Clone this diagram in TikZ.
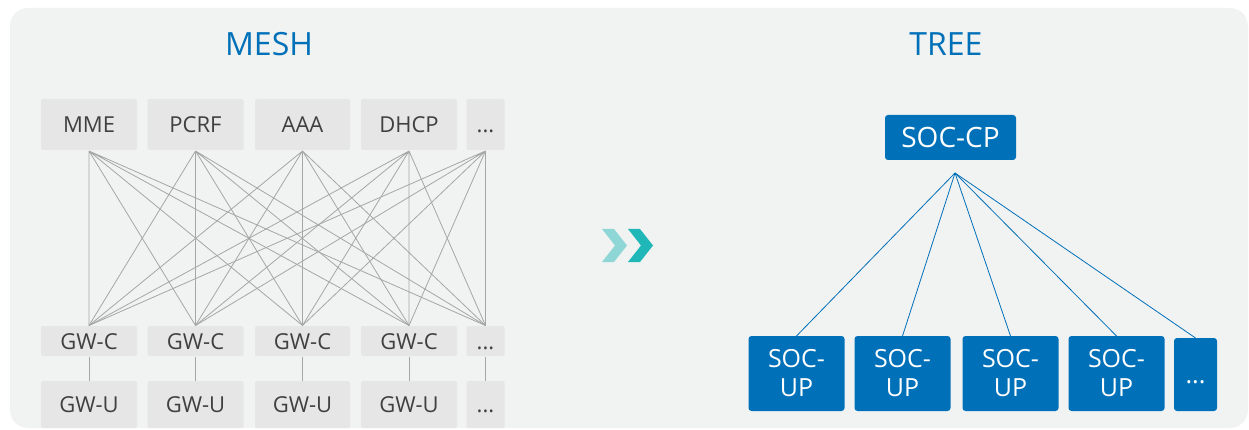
\documentclass[tikz,border=0pt]{standalone}
\usepackage{fontspec}
\setmainfont{Open Sans}
\definecolor{bgcol}{HTML}{F1F2F2}
\definecolor{boxgray}{HTML}{E6E6E6}
\definecolor{textgray}{HTML}{404040}
\definecolor{linegray}{HTML}{A6A6A6}
\definecolor{socblue}{HTML}{0070B8}
\definecolor{chevlight}{HTML}{8FD7D7}
\definecolor{chevdark}{HTML}{1FB7B7}
\begin{document}
\begin{tikzpicture}[x=1pt, y=-1pt,
  every node/.style={inner sep=0pt, outer sep=0pt},
  titletext/.style={text=socblue, font=\fontsize{32}{38}\selectfont},
  graybox/.style={fill=boxgray, rounded corners=2pt, text=textgray, minimum width=96pt,
    font=\fontsize{22}{26}\selectfont, text height=16pt, text depth=0pt},
  meshlink/.style={draw=linegray, line width=0.8pt},
  bluebox/.style={fill=socblue, rounded corners=3pt, text=white, minimum width=96pt,
    minimum height=75pt, align=center, font=\fontsize{25}{29}\selectfont},
  treelink/.style={draw=socblue, line width=0.8pt}]
\useasboundingbox (0,0) rectangle (1249,430);
\fill[bgcol, rounded corners=18pt] (10,8) rectangle (1248,428);

\node[titletext] (mesh) at (269,44) {MESH};
\node[titletext] (tree) at (946,44) {TREE};

\node[graybox, minimum height=51pt, outer sep=1pt] (mme) at (89,124.5) {MME};
\node[graybox, minimum height=51pt, outer sep=1pt] (pcrf) at (195.5,124.5) {PCRF};
\node[graybox, minimum height=51pt, outer sep=1pt, minimum width=95pt] (aaa) at (302.5,124.5) {AAA};
\node[graybox, minimum height=51pt, outer sep=1pt] (dhcp) at (409,124.5) {DHCP};
\node[graybox, minimum height=51pt, outer sep=1pt, minimum width=38pt] (fn) at (485.5,124.5) {...};

\node[graybox, minimum height=30pt, outer sep=0.5pt] (gwc1) at (89,341) {GW-C};
\node[graybox, minimum height=30pt, outer sep=0.5pt] (gwc2) at (195.5,341) {GW-C};
\node[graybox, minimum height=30pt, outer sep=0.5pt, minimum width=95pt] (gwc3) at (302.5,341) {GW-C};
\node[graybox, minimum height=30pt, outer sep=0.5pt] (gwc4) at (409,341) {GW-C};
\node[graybox, minimum height=30pt, outer sep=0.5pt, minimum width=38pt] (gwc5) at (485.5,341) {...};

\node[graybox, minimum height=47pt] (gwu1) at (89,404.5) {GW-U};
\node[graybox, minimum height=47pt] (gwu2) at (195.5,404.5) {GW-U};
\node[graybox, minimum height=47pt, minimum width=95pt] (gwu3) at (302.5,404.5) {GW-U};
\node[graybox, minimum height=47pt] (gwu4) at (409,404.5) {GW-U};
\node[graybox, minimum height=47pt, minimum width=38pt] (gwu5) at (485.5,404.5) {...};

\draw[meshlink] (mme.south) -- (gwc1.north) (mme.south) -- (gwc2.north) (mme.south) -- (gwc3.north) (mme.south) -- (gwc4.north) (mme.south) -- (gwc5.north);
\draw[meshlink] (pcrf.south) -- (gwc1.north) (pcrf.south) -- (gwc2.north) (pcrf.south) -- (gwc3.north) (pcrf.south) -- (gwc4.north) (pcrf.south) -- (gwc5.north);
\draw[meshlink] (aaa.south) -- (gwc1.north) (aaa.south) -- (gwc2.north) (aaa.south) -- (gwc3.north) (aaa.south) -- (gwc4.north) (aaa.south) -- (gwc5.north);
\draw[meshlink] (dhcp.south) -- (gwc1.north) (dhcp.south) -- (gwc2.north) (dhcp.south) -- (gwc3.north) (dhcp.south) -- (gwc4.north) (dhcp.south) -- (gwc5.north);
\draw[meshlink] (fn.south) -- (gwc1.north) (fn.south) -- (gwc2.north) (fn.south) -- (gwc3.north) (fn.south) -- (gwc4.north) (fn.south) -- (gwc5.north);

\draw[meshlink] (gwc1) -- (gwu1);
\draw[meshlink] (gwc2) -- (gwu2);
\draw[meshlink] (gwc3) -- (gwu3);
\draw[meshlink] (gwc4) -- (gwu4);
\draw[meshlink] (gwc5) -- (gwu5);

\fill[chevlight] (602,229) -- (614,229) -- (627,245.5) -- (614,262) -- (602,262) -- (615,245.5) -- cycle;
\fill[chevdark] (628,229) -- (640,229) -- (653,245.5) -- (640,262) -- (628,262) -- (641,245.5) -- cycle;

\node[bluebox, minimum width=131pt, minimum height=45pt, font=\fontsize{28}{34}\selectfont] (soccp) at (950.5,137.5) {SOC-CP};
\coordinate (hub) at (955,173);

\node[bluebox] (socup1) at (796.5,373.5) {SOC-\\UP};
\node[bluebox] (socup2) at (902.5,373.5) {SOC-\\UP};
\node[bluebox] (socup3) at (1010.5,373.5) {SOC-\\UP};
\node[bluebox] (socup4) at (1116.5,373.5) {SOC-\\UP};
\node[bluebox, minimum width=43pt, minimum height=73pt, text height=18pt, text depth=0pt] (socup5) at (1195.5,374.5) {...};

\draw[treelink] (hub) -- (socup1.north);
\draw[treelink] (hub) -- (socup2.north);
\draw[treelink] (hub) -- (socup3.north);
\draw[treelink] (hub) -- (socup4.north);
\draw[treelink] (hub) -- (socup5.north);
\end{tikzpicture}
\end{document}
